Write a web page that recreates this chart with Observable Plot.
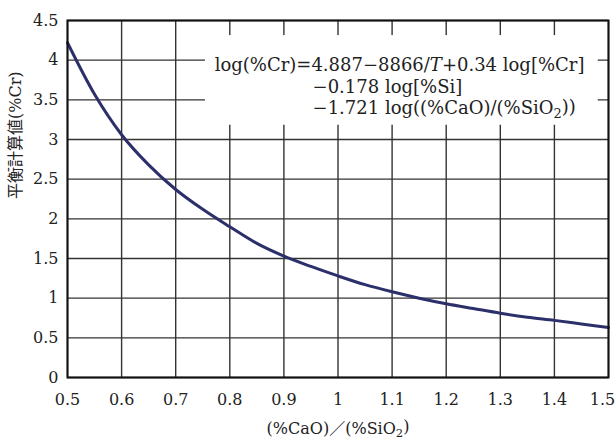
<!DOCTYPE html>
<html>
<head>
<meta charset="utf-8">
<script src="https://cdn.jsdelivr.net/npm/d3@7"></script>
<script src="https://cdn.jsdelivr.net/npm/@observablehq/plot@0.6"></script>
<style>
  html, body { margin: 0; padding: 0; background: #fff; }
</style>
</head>
<body>
<div id="chart"></div>
<script>
// Basicity (%CaO)/(%SiO2)
const basicity = [0.5, 0.55, 0.6, 0.65, 0.7, 0.75, 0.8, 0.85, 0.9, 0.95, 1.0,
                  1.05, 1.1, 1.15, 1.2, 1.25, 1.3, 1.35, 1.4, 1.45, 1.5];
// Equilibrium calculated (%Cr)
const crCalc = [4.22, 3.57, 3.06, 2.68, 2.37, 2.12, 1.90, 1.69, 1.53, 1.40, 1.28,
                1.17, 1.08, 1.00, 0.93, 0.87, 0.81, 0.76, 0.72, 0.675, 0.63];

const xTicks = [0.5, 0.6, 0.7, 0.8, 0.9, 1.0, 1.1, 1.2, 1.3, 1.4, 1.5];
const xTickLabels = ["0.5", "0.6", "0.7", "0.8", "0.9", "1", "1.1", "1.2", "1.3", "1.4", "1.5"];
const yTicks = [0, 0.5, 1, 1.5, 2, 2.5, 3, 3.5, 4, 4.5];
const yTickLabels = ["0", "0.5", "1", "1.5", "2", "2.5", "3", "3.5", "4", "4.5"];

const xLabel = "(%CaO)／(%SiO2)";
const yLabel = "平衡計算値(%Cr)";
const equationLines = [
  "log(%Cr)=4.887−8866/T+0.34 log[%Cr]",
  "−0.178 log[%Si]",
  "−1.721 log((%CaO)/(%SiO2))"
];

const data = basicity.map((b, i) => ({x: b, y: crCalc[i]}));

const serif = "'DejaVu Serif', 'Noto Sans CJK JP', serif";
const gridColor = "#333";

// annotation box (in data units) and equation line anchors
const eqBox = [{x1: 0.755, x2: 1.481, y1: 3.18, y2: 4.31}];
const eqRows = equationLines.map((t, i) => ({
  text: t,
  x: i === 0 ? 0.772 : 0.953,
  y: [3.93, 3.66, 3.39][i]
}));

const chart = Plot.plot({
  width: 615,
  height: 441,
  marginLeft: 67,
  marginRight: 7,
  marginTop: 20,
  marginBottom: 64,
  style: {fontFamily: serif, fontSize: "16px", color: "#222", background: "#fff", overflow: "visible"},
  x: {domain: [0.5, 1.5], axis: null},
  y: {domain: [0, 4.5], axis: null},
  marks: [
    Plot.gridX(xTicks, {stroke: gridColor, strokeOpacity: 1, strokeWidth: 1.4}),
    Plot.gridY(yTicks, {stroke: gridColor, strokeOpacity: 1, strokeWidth: 1.4}),
    Plot.rect(eqBox, {x1: "x1", x2: "x2", y1: "y1", y2: "y2", fill: "#fff"}),
    Plot.text(eqRows, {x: "x", y: "y", text: "text", textAnchor: "start",
                       fontSize: 18, fill: "#222"}),
    Plot.line(data, {x: "x", y: "y", curve: "monotone-x", stroke: "#2c306a", strokeWidth: 3,
                     strokeLinejoin: "round", strokeLinecap: "round"}),
    Plot.frame({stroke: "#111", strokeWidth: 2}),
    Plot.axisX(xTicks, {tickSize: 0, tickPadding: 16, label: null,
                        tickFormat: (d, i) => xTickLabels[i], fontSize: 16}),
    Plot.axisY(yTicks, {tickSize: 0, tickPadding: 9, label: null,
                        tickFormat: (d, i) => yTickLabels[i], fontSize: 16}),
    Plot.text([xLabel], {text: d => d, frameAnchor: "bottom", dy: 51,
                         lineAnchor: "middle", fontSize: 16, fill: "#222"}),
    Plot.text([yLabel], {text: d => d, frameAnchor: "left", dx: -52, rotate: -90,
                         lineAnchor: "middle", fontSize: 16, fill: "#222"})
  ]
});

// typographic refinements: italic T and subscript 2
d3.select(chart).selectAll("text").each(function() {
  const el = this;
  if (el.querySelector("tspan")) return;
  const s = el.textContent;
  if (s.includes("SiO2")) {
    const idx = s.indexOf("SiO2") + 3;
    const before = s.slice(0, idx), after = s.slice(idx + 1);
    el.textContent = "";
    const sel = d3.select(el);
    sel.append("tspan").text(before);
    sel.append("tspan").attr("dy", "0.3em").attr("font-size", "0.72em").text("2");
    sel.append("tspan").attr("dy", "-0.3em").text(after);
  } else if (s.includes("/T+")) {
    const idx = s.indexOf("/T+") + 1;
    el.textContent = "";
    const sel = d3.select(el);
    sel.append("tspan").text(s.slice(0, idx));
    sel.append("tspan").attr("font-style", "italic").text("T");
    sel.append("tspan").text(s.slice(idx + 1));
  }
});

// keep the last x tick label inside the picture, as in the reference
const lastX = xTickLabels[xTickLabels.length - 1];
d3.select(chart).selectAll("text").filter(function() {
  return this.textContent === lastX && this.closest("g[aria-label='x-axis tick label']");
}).attr("dx", -6);

document.getElementById("chart").appendChild(chart);
</script>
</body>
</html>
